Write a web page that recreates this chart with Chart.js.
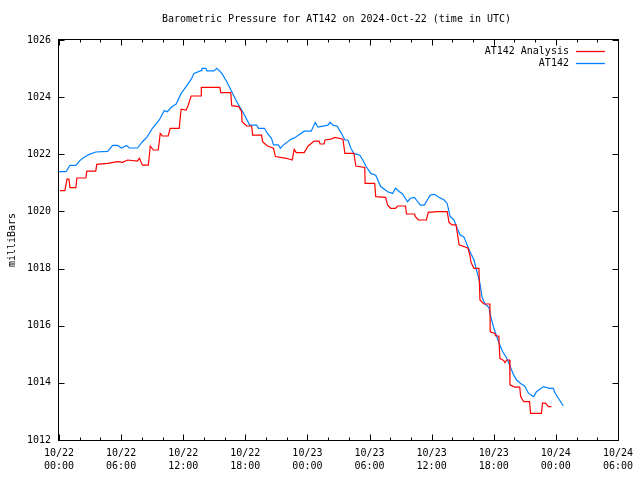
<!DOCTYPE html>
<html>
<head>
<meta charset="utf-8">
<title>Barometric Pressure for AT142</title>
<script src="https://cdn.jsdelivr.net/npm/chart.js@4.4.1/dist/chart.umd.min.js"></script>
<style>
  body { margin: 0; background: #fff; }
</style>
</head>
<body>
<canvas id="chart" width="640" height="480"></canvas>
<script>
const chartTitle = 'Barometric Pressure for AT142 on 2024-Oct-22 (time in UTC)';
const yTitle = 'milliBars';
const startMonth = 10;
const startDay = 22;
const xMaxHours = 54;
const yMin = 1012;
const yMax = 1026;
const seriesNames = ['AT142 Analysis', 'AT142'];
const seriesColors = ['#ff0000', '#0080ff'];

// hours since 2024-10-22 00:00 UTC
const analysisHours = [
  0.10, 0.57, 0.77, 0.96, 1.06, 1.63, 1.73, 2.59, 2.69, 3.55, 3.65, 4.70, 5.66, 6.14, 6.62, 7.58, 7.77, 8.06, 8.63, 8.82,
  9.11, 9.59, 9.78, 9.98, 10.55, 10.74, 11.61, 11.80, 12.28, 12.47, 12.76, 13.72, 13.75, 15.54, 15.63, 16.59, 16.69, 17.36, 17.65, 17.68,
  18.13, 18.61, 18.71, 19.57, 19.67, 20.14, 20.72, 20.91, 21.96, 22.53, 22.72, 22.92, 23.69, 24.07, 24.65, 25.13, 25.22, 25.61, 25.70, 26.28,
  26.66, 27.43, 27.62, 28.49, 28.68, 29.54, 29.57, 30.50, 30.60, 31.55, 31.75, 32.04, 32.51, 32.71, 33.48, 33.57, 34.34, 34.43, 34.72, 35.49,
  35.68, 36.54, 37.50, 37.69, 37.98, 38.36, 38.56, 38.65, 39.13, 39.52, 39.71, 39.81, 40.09, 40.57, 40.67, 41.05, 41.63, 41.66, 42.11, 42.20,
  42.49, 42.59, 42.97, 43.07, 43.26, 43.54, 43.57, 44.03, 44.51, 44.60, 44.89, 45.46, 45.56, 46.61, 46.71, 46.99, 47.28, 47.57
];
const analysisPressure = [
  1020.73, 1020.73, 1021.13, 1021.13, 1020.83, 1020.83, 1021.17, 1021.17, 1021.41, 1021.41, 1021.65, 1021.68, 1021.74, 1021.72, 1021.80, 1021.76, 1021.86, 1021.62, 1021.62, 1022.29,
  1022.15, 1022.15, 1022.73, 1022.64, 1022.64, 1022.91, 1022.91, 1023.58, 1023.55, 1023.70, 1024.04, 1024.04, 1024.34, 1024.34, 1024.16, 1024.16, 1023.70, 1023.67, 1023.49, 1023.14,
  1022.99, 1022.99, 1022.67, 1022.67, 1022.44, 1022.29, 1022.21, 1021.92, 1021.86, 1021.80, 1022.17, 1022.06, 1022.06, 1022.29, 1022.46, 1022.46, 1022.36, 1022.36, 1022.50, 1022.53,
  1022.59, 1022.53, 1022.03, 1022.03, 1021.59, 1021.54, 1020.98, 1020.98, 1020.52, 1020.49, 1020.22, 1020.11, 1020.11, 1020.19, 1020.19, 1019.91, 1019.91, 1019.82, 1019.70, 1019.70,
  1019.97, 1019.99, 1019.99, 1019.61, 1019.53, 1019.53, 1019.06, 1018.83, 1018.77, 1018.71, 1018.44, 1018.21, 1018.01, 1018.01, 1016.90, 1016.76, 1016.76, 1015.79, 1015.73, 1015.64,
  1015.64, 1014.86, 1014.78, 1014.71, 1014.80, 1014.80, 1013.93, 1013.85, 1013.85, 1013.52, 1013.34, 1013.34, 1012.93, 1012.93, 1013.29, 1013.29, 1013.17, 1013.17
];

const stationHours = [
  0.00, 0.67, 1.06, 1.63, 2.01, 2.40, 2.88, 3.55, 4.70, 5.18, 5.66, 6.04, 6.52, 6.81, 7.58, 8.06, 8.54, 9.02, 9.69, 10.17,
  10.45, 10.93, 11.32, 11.80, 12.28, 12.76, 13.04, 13.72, 13.81, 14.20, 14.29, 14.96, 15.25, 15.73, 16.21, 16.69, 17.17, 17.84, 18.42, 19.09,
  19.28, 19.85, 20.14, 20.53, 20.72, 21.20, 21.39, 21.68, 21.96, 22.44, 22.83, 23.12, 23.69, 24.36, 24.75, 25.03, 25.99, 26.18, 26.47, 26.86,
  27.24, 27.62, 27.91, 28.20, 28.49, 29.06, 29.35, 29.64, 30.12, 30.60, 31.08, 31.75, 32.23, 32.51, 32.90, 33.19, 33.67, 33.95, 34.34, 34.53,
  34.91, 35.30, 35.58, 35.87, 36.26, 36.74, 37.21, 37.50, 37.79, 38.17, 38.46, 38.75, 39.13, 39.42, 39.71, 40.09, 40.38, 40.67, 40.86, 41.15,
  41.53, 41.72, 42.01, 42.49, 42.87, 43.26, 43.54, 43.93, 44.22, 44.60, 44.98, 45.37, 45.85, 46.13, 46.42, 46.81, 47.38, 47.77, 47.86, 48.24,
  48.72
];
const stationPressure = [
  1021.39, 1021.39, 1021.61, 1021.61, 1021.78, 1021.89, 1021.99, 1022.08, 1022.10, 1022.31, 1022.31, 1022.22, 1022.31, 1022.22, 1022.22, 1022.44, 1022.62, 1022.91, 1023.20, 1023.53,
  1023.49, 1023.67, 1023.76, 1024.13, 1024.37, 1024.62, 1024.83, 1024.93, 1025.01, 1025.01, 1024.92, 1024.92, 1025.01, 1024.83, 1024.54, 1024.19, 1023.84, 1023.43, 1023.02, 1023.02,
  1022.91, 1022.91, 1022.73, 1022.56, 1022.33, 1022.33, 1022.21, 1022.33, 1022.40, 1022.53, 1022.59, 1022.67, 1022.81, 1022.81, 1023.11, 1022.95, 1023.02, 1023.12, 1023.02, 1022.99,
  1022.76, 1022.50, 1022.50, 1022.21, 1022.03, 1021.97, 1021.80, 1021.59, 1021.33, 1021.27, 1020.87, 1020.69, 1020.63, 1020.81, 1020.69, 1020.61, 1020.34, 1020.46, 1020.49, 1020.40,
  1020.22, 1020.22, 1020.40, 1020.57, 1020.60, 1020.49, 1020.40, 1020.28, 1019.82, 1019.70, 1019.41, 1019.18, 1019.10, 1018.83, 1018.59, 1018.30, 1017.89, 1017.48, 1017.01, 1016.76,
  1016.64, 1016.31, 1015.91, 1015.41, 1015.09, 1014.86, 1014.62, 1014.27, 1014.10, 1013.98, 1013.89, 1013.63, 1013.52, 1013.69, 1013.77, 1013.87, 1013.81, 1013.81, 1013.69, 1013.46,
  1013.19
];

const monoFont = "'DejaVu Sans Mono', 'Liberation Mono', monospace";

const toPoints = (xs, ys) => xs.map((x, i) => ({ x: x, y: ys[i] }));

const pad2 = (n) => (n < 10 ? '0' : '') + n;

const hourLabel = (value) => {
  const day = startDay + Math.floor(value / 24);
  const hh = value % 24;
  return [pad2(startMonth) + '/' + pad2(day), pad2(hh) + ':00'];
};

// gnuplot-like frame: border, inward ticks, title, y title, key
const gnuplotFrame = {
  id: 'gnuplotFrame',
  afterDraw(chart) {
    const ctx = chart.ctx;
    const area = chart.chartArea;
    const xs = chart.scales.x;
    const ys = chart.scales.y;
    const L = Math.round(area.left) - 0.5;
    const R = Math.round(area.right) + 0.5;
    const T = Math.round(area.top) - 0.5;
    const B = Math.round(area.bottom) + 0.5;

    ctx.save();
    ctx.strokeStyle = '#000';
    ctx.lineWidth = 1;
    ctx.strokeRect(L, T, R - L, B - T);

    ctx.beginPath();
    for (let h = 0; h <= xMaxHours; h += 2) {
      const px = Math.round(xs.getPixelForValue(h)) + 0.5;
      const len = h % 6 === 0 ? 6 : 3;
      ctx.moveTo(px, B); ctx.lineTo(px, B - len);
      ctx.moveTo(px, T); ctx.lineTo(px, T + len);
    }
    for (let p = yMin; p <= yMax; p += 2) {
      const py = Math.round(ys.getPixelForValue(p)) + 0.5;
      ctx.moveTo(L, py); ctx.lineTo(L + 6, py);
      ctx.moveTo(R, py); ctx.lineTo(R - 6, py);
    }
    ctx.stroke();

    ctx.fillStyle = '#000';
    ctx.font = '10px ' + monoFont;
    ctx.textBaseline = 'middle';
    ctx.textAlign = 'center';
    ctx.fillText(chartTitle, (area.left + area.right) / 2 - 2, 19);

    ctx.save();
    ctx.translate(12, (area.top + area.bottom) / 2);
    ctx.rotate(-Math.PI / 2);
    ctx.fillText(yTitle, 0, 0);
    ctx.restore();

    ctx.textAlign = 'right';
    ctx.lineWidth = 1.3;
    seriesNames.forEach((name, i) => {
      const y = Math.round(area.top + 11 + i * 12);
      ctx.fillStyle = '#000';
      ctx.fillText(name, area.right - 49, y);
      ctx.strokeStyle = seriesColors[i];
      ctx.beginPath();
      ctx.moveTo(area.right - 42, y + 0.5);
      ctx.lineTo(area.right - 13, y + 0.5);
      ctx.stroke();
    });
    ctx.restore();
  }
};

new Chart(document.getElementById('chart'), {
  type: 'line',
  data: {
    datasets: [
      {
        label: seriesNames[0],
        data: toPoints(analysisHours, analysisPressure),
        borderColor: seriesColors[0],
        borderWidth: 1.2,
        pointRadius: 0,
        tension: 0
      },
      {
        label: seriesNames[1],
        data: toPoints(stationHours, stationPressure),
        borderColor: seriesColors[1],
        borderWidth: 1.2,
        pointRadius: 0,
        tension: 0
      }
    ]
  },
  options: {
    responsive: false,
    animation: false,
    layout: { padding: { top: 40, right: 17, left: 0, bottom: 0 } },
    plugins: {
      legend: { display: false },
      title: { display: false },
      tooltip: { enabled: false }
    },
    scales: {
      x: {
        type: 'linear',
        min: 0,
        max: xMaxHours,
        afterFit: (scale) => { scale.height = 40; },
        grid: { display: false, drawTicks: false },
        border: { display: false },
        ticks: {
          stepSize: 6,
          autoSkip: false,
          maxRotation: 0,
          padding: 7,
          color: '#000',
          font: { family: monoFont, size: 10, lineHeight: 1.3 },
          callback: (value) => hourLabel(value)
        }
      },
      y: {
        min: yMin,
        max: yMax,
        afterFit: (scale) => { scale.width = 59; },
        grid: { display: false, drawTicks: false },
        border: { display: false },
        ticks: {
          stepSize: 2,
          padding: 8,
          color: '#000',
          font: { family: monoFont, size: 10 },
          callback: (value) => String(value)
        }
      }
    }
  },
  plugins: [gnuplotFrame]
});
</script>
</body>
</html>
